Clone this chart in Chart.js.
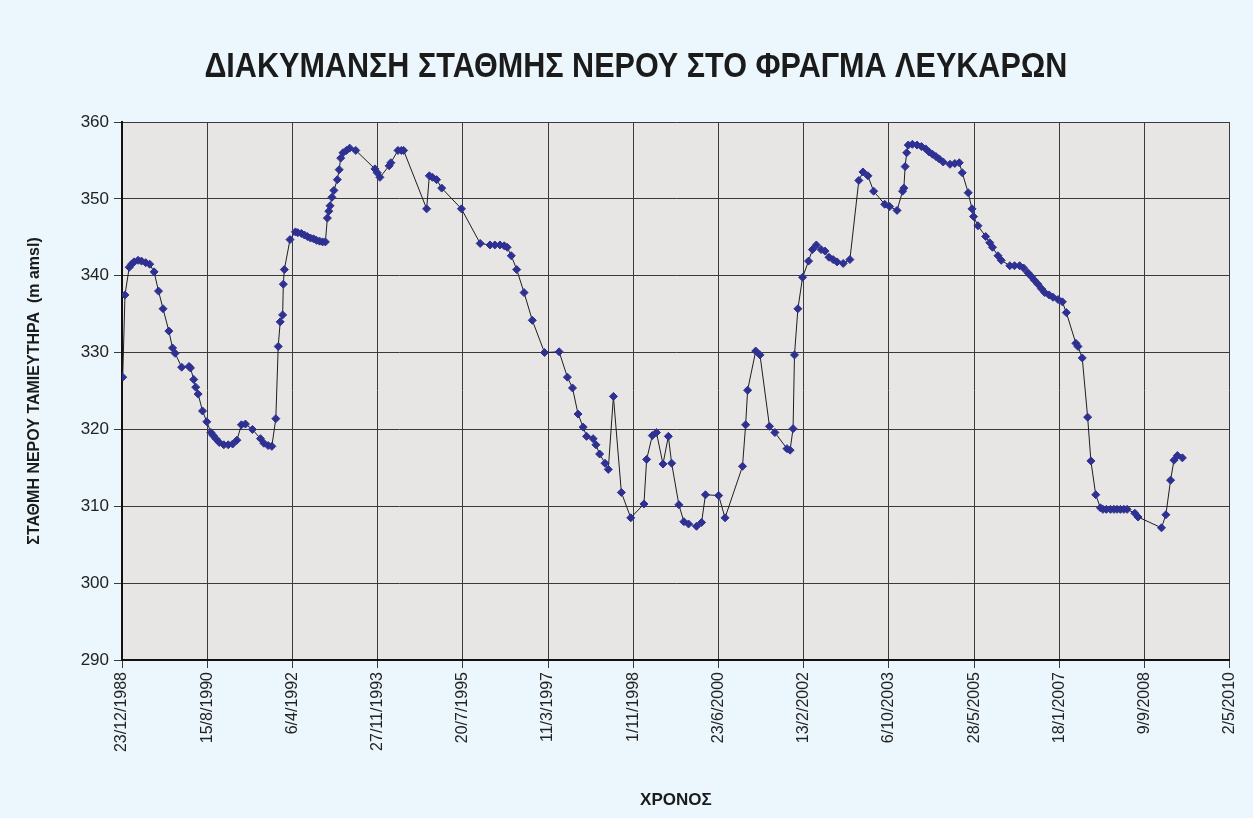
<!DOCTYPE html>
<html lang="el">
<head>
    <meta charset="UTF-8">
    <title>Διακύμανση στάθμης νερού - Φράγμα Λευκάρων</title>
    <script src="https://cdn.jsdelivr.net/npm/chart.js"></script>
    <style>
        body { margin: 0; background: #ECF7FD; }
        #levelChart { display: block; }
    </style>
</head>
<body>
    <canvas id="levelChart" width="1253" height="818"></canvas>

    <script>
        const chartTitle = 'ΔΙΑΚΥΜΑΝΣΗ ΣΤΑΘΜΗΣ ΝΕΡΟΥ ΣΤΟ ΦΡΑΓΜΑ ΛΕΥΚΑΡΩΝ';

        const dates = [
            '1988-12-28','1989-01-13','1989-02-12','1989-02-28','1989-03-17','1989-04-15','1989-05-09','1989-06-08','1989-07-06','1989-08-06',
            '1989-09-06','1989-10-08','1989-11-18','1989-12-14','1990-01-01','1990-02-16','1990-04-09','1990-04-19','1990-05-12','1990-05-26',
            '1990-06-12','1990-07-13','1990-08-12','1990-09-10','1990-09-26','1990-10-15','1990-11-08','1990-12-10','1991-01-10','1991-02-10',
            '1991-03-12','1991-04-13','1991-05-11','1991-06-29','1991-08-25','1991-09-18','1991-10-18','1991-11-13','1991-12-11','1991-12-28',
            '1992-01-11','1992-01-28','1992-02-02','1992-02-09','1992-03-20','1992-04-27','1992-05-14','1992-06-08','1992-06-29','1992-07-20',
            '1992-08-11','1992-09-02','1992-09-23','1992-10-14','1992-11-04','1992-11-24','1992-12-08','1992-12-18','1992-12-27','1993-01-09',
            '1993-01-23','1993-02-16','1993-03-01','1993-03-12','1993-03-28','1993-04-21','1993-05-14','1993-06-26','1993-11-08','1993-11-24',
            '1993-12-13','1994-02-16','1994-02-28','1994-04-19','1994-05-13','1994-05-29','1994-11-07','1994-11-26','1994-12-18','1995-01-16',
            '1995-02-21','1995-07-10','1995-11-19','1996-01-27','1996-03-01','1996-04-06','1996-05-06','1996-05-27','1996-06-25','1996-08-02',
            '1996-09-23','1996-11-20','1997-02-14','1997-05-28','1997-07-25','1997-08-30','1997-10-08','1997-11-13','1997-12-07','1998-01-22',
            '1998-02-11','1998-03-09','1998-04-16','1998-05-09','1998-06-14','1998-08-09','1998-10-14','1999-01-15','1999-02-03','1999-03-15',
            '1999-04-13','1999-05-29','1999-07-06','1999-07-29','1999-09-18','1999-10-23','1999-11-25','2000-01-20','2000-02-25','2000-03-23',
            '2000-06-24','2000-08-08','2000-12-09','2000-12-31','2001-01-14','2001-03-12','2001-04-11','2001-06-17','2001-07-25','2001-10-18',
            '2001-11-09','2001-11-30','2001-12-10','2002-01-03','2002-02-05','2002-03-19','2002-04-15','2002-05-13','2002-06-15','2002-07-13',
            '2002-08-10','2002-09-08','2002-10-06','2002-11-18','2003-01-04','2003-03-08','2003-04-06','2003-05-11','2003-06-20','2003-09-06',
            '2003-10-11','2003-12-02','2004-01-10','2004-01-19','2004-01-28','2004-02-08','2004-02-19','2004-03-19','2004-04-21','2004-05-22',
            '2004-06-21','2004-07-15','2004-08-08','2004-09-01','2004-09-24','2004-10-22','2004-12-09','2005-01-12','2005-02-12','2005-03-05',
            '2005-04-16','2005-05-13','2005-05-24','2005-06-24','2005-08-17','2005-09-15','2005-10-04','2005-11-12','2005-12-05','2006-02-03',
            '2006-03-08','2006-04-13','2006-05-11','2006-06-10','2006-07-04','2006-07-27','2006-08-20','2006-09-14','2006-10-07','2006-11-07',
            '2006-12-04','2007-01-09','2007-02-08','2007-03-08','2007-05-14','2007-05-29','2007-06-28','2007-08-05','2007-08-28','2007-10-01',
            '2007-11-03','2007-11-21','2007-12-15','2008-01-13','2008-02-06','2008-02-28','2008-03-23','2008-04-16','2008-05-09','2008-07-02',
            '2008-07-25','2009-01-06','2009-02-06','2009-03-11','2009-04-04','2009-04-28','2009-06-02'
        ];

        // Reservoir level, m amsl
        const levels = [
            326.8, 337.5, 341.1, 341.5, 341.8, 342.0, 341.9, 341.7, 341.5, 340.5,
            338.0, 335.7, 332.8, 330.6, 329.9, 328.1, 328.2, 328.0, 326.5, 325.5,
            324.6, 322.4, 321.0, 319.6, 319.2, 318.8, 318.3, 318.0, 318.0, 318.1,
            318.6, 320.6, 320.7, 320.0, 318.8, 318.2, 317.9, 317.8, 321.4, 330.8,
            334.0, 334.9, 338.9, 340.8, 344.7, 345.7, 345.6, 345.5, 345.3, 345.1,
            344.9, 344.8, 344.6, 344.5, 344.4, 344.4, 347.5, 348.4, 349.1, 350.2,
            351.1, 352.5, 353.8, 355.3, 356.0, 356.3, 356.6, 356.3, 353.9, 353.4,
            352.8, 354.3, 354.7, 356.3, 356.3, 356.3, 348.7, 353.0, 352.8, 352.5,
            351.4, 348.7, 344.2, 344.0, 344.0, 344.0, 343.9, 343.7, 342.6, 340.8,
            337.8, 334.2, 330.0, 330.1, 326.8, 325.4, 322.0, 320.3, 319.1, 318.8,
            318.0, 316.8, 315.6, 314.8, 324.3, 311.8, 308.5, 310.3, 316.1, 319.2,
            319.6, 315.5, 319.1, 315.6, 310.2, 308.0, 307.7, 307.4, 307.9, 311.5,
            311.4, 308.5, 315.2, 320.6, 325.1, 330.2, 329.7, 320.4, 319.6, 317.5,
            317.3, 320.1, 329.7, 335.7, 339.8, 341.9, 343.4, 344.0, 343.4, 343.2,
            342.4, 342.1, 341.8, 341.6, 342.1, 352.4, 353.5, 353.0, 351.0, 349.3,
            349.0, 348.5, 351.0, 351.4, 354.2, 356.0, 357.0, 357.1, 357.0, 356.8,
            356.5, 356.1, 355.8, 355.5, 355.2, 354.8, 354.5, 354.6, 354.7, 353.4,
            350.8, 348.7, 347.7, 346.5, 345.1, 344.3, 343.7, 342.6, 342.0, 341.3,
            341.3, 341.3, 341.0, 340.4, 339.9, 339.4, 338.9, 338.3, 337.8, 337.5,
            337.2, 336.9, 336.6, 335.2, 331.2, 330.8, 329.3, 321.6, 315.9, 311.5,
            309.8, 309.6, 309.6, 309.6, 309.6, 309.6, 309.6, 309.6, 309.6, 309.1,
            308.6, 307.2, 308.9, 313.4, 316.0, 316.6, 316.3
        ];

        // X axis tick labels (every 600 days)
        const xTickLabels = [
            '23/12/1988', '15/8/1990', '6/4/1992', '27/11/1993', '20/7/1995', '11/3/1997', '1/11/1998',
            '23/6/2000', '13/2/2002', '6/10/2003', '28/5/2005', '18/1/2007', '9/9/2008', '2/5/2010'
        ];
        const yTickValues = [290, 300, 310, 320, 330, 340, 350, 360];

        // day number (spreadsheet style serial) from a date
        function serialFromParts(y, m, d) {
            return Date.UTC(y, m - 1, d) / 86400000 + 25569;
        }
        function serialFromIso(s) {
            const p = s.split('-').map(Number);
            return serialFromParts(p[0], p[1], p[2]);
        }
        function serialFromLabel(s) {
            const p = s.split('/').map(Number);
            return serialFromParts(p[2], p[1], p[0]);
        }

        const xTickValues = xTickLabels.map(serialFromLabel);
        const points = dates.map((d, i) => ({ x: serialFromIso(d), y: levels[i] }));

        const fontFamily = 'Arial, "Liberation Sans", Helvetica, sans-serif';

        const backgroundPlugin = {
            id: 'backgrounds',
            beforeDraw(chart) {
                const { ctx, chartArea } = chart;
                ctx.save();
                ctx.fillStyle = '#ECF7FD';
                ctx.fillRect(0, 0, chart.width, chart.height);
                ctx.fillStyle = '#E7E6E4';
                ctx.fillRect(chartArea.left, chartArea.top,
                    chartArea.right - chartArea.left, chartArea.bottom - chartArea.top);
                ctx.restore();
            }
        };

        // narrow bold title (squeezed Arial, like Arial Narrow in the original)
        const narrowTitlePlugin = {
            id: 'narrowTitle',
            afterDraw(chart) {
                const { ctx } = chart;
                ctx.save();
                ctx.font = 'bold 35px ' + fontFamily;
                ctx.fillStyle = '#1b1b1b';
                ctx.textBaseline = 'alphabetic';
                ctx.textAlign = 'left';
                const w = ctx.measureText(chartTitle).width;
                const targetW = 863;
                const sx = targetW / w;
                const cx = (chart.chartArea.left + chart.chartArea.right) / 2 - 40;
                ctx.translate(cx - targetW / 2, 76.5);
                ctx.scale(sx, 1);
                ctx.fillText(chartTitle, 0, 0);
                ctx.restore();
            }
        };

        const ctx = document.getElementById('levelChart').getContext('2d');
        const levelChart = new Chart(ctx, {
            type: 'scatter',
            data: {
                datasets: [{
                    label: 'Στάθμη',
                    data: points,
                    showLine: true,
                    borderColor: '#1e1e1e',
                    borderWidth: 1,
                    tension: 0,
                    pointStyle: 'rectRot',
                    pointRadius: 4,
                    pointBorderWidth: 1,
                    pointBackgroundColor: '#2E3192',
                    pointBorderColor: '#2E3192'
                }]
            },
            options: {
                responsive: false,
                animation: false,
                events: [],
                layout: { padding: { left: 0, right: 23, top: 122, bottom: 0 } },
                plugins: {
                    legend: { display: false },
                    tooltip: { enabled: false },
                    title: { display: false }
                },
                scales: {
                    x: {
                        type: 'linear',
                        min: xTickValues[0],
                        max: xTickValues[xTickValues.length - 1],
                        afterBuildTicks: (scale) => {
                            scale.ticks = xTickValues.map(v => ({ value: v }));
                        },
                        afterFit: (scale) => { scale.height = 158; },
                        ticks: {
                            autoSkip: false,
                            maxRotation: 90,
                            minRotation: 90,
                            padding: 4,
                            color: '#222',
                            font: { family: fontFamily, size: 16 },
                            callback: (value, index) => xTickLabels[index]
                        },
                        grid: { color: '#3a3a3a', lineWidth: 1, tickLength: 8, tickColor: '#3a3a3a' },
                        border: { color: '#111', width: 2 },
                        title: {
                            display: true,
                            text: 'ΧΡΟΝΟΣ',
                            color: '#1b1b1b',
                            font: { family: fontFamily, size: 17, weight: 'bold' },
                            padding: { top: 0, bottom: 7.8 }
                        }
                    },
                    y: {
                        min: yTickValues[0],
                        max: yTickValues[yTickValues.length - 1],
                        afterBuildTicks: (scale) => {
                            scale.ticks = yTickValues.map(v => ({ value: v }));
                        },
                        afterFit: (scale) => { scale.width = 122; },
                        ticks: {
                            padding: 5,
                            color: '#222',
                            font: { family: fontFamily, size: 17 }
                        },
                        grid: { color: '#3a3a3a', lineWidth: 1, tickLength: 8, tickColor: '#3a3a3a' },
                        border: { color: '#111', width: 2 },
                        title: {
                            display: true,
                            text: 'ΣΤΑΘΜΗ ΝΕΡΟΥ ΤΑΜΙΕΥΤΗΡΑ  (m amsl)',
                            color: '#1b1b1b',
                            font: { family: fontFamily, size: 16, weight: 'bold' },
                            padding: { top: 24.8, bottom: 0 }
                        }
                    }
                }
            },
            plugins: [backgroundPlugin, narrowTitlePlugin]
        });
    </script>
</body>
</html>
